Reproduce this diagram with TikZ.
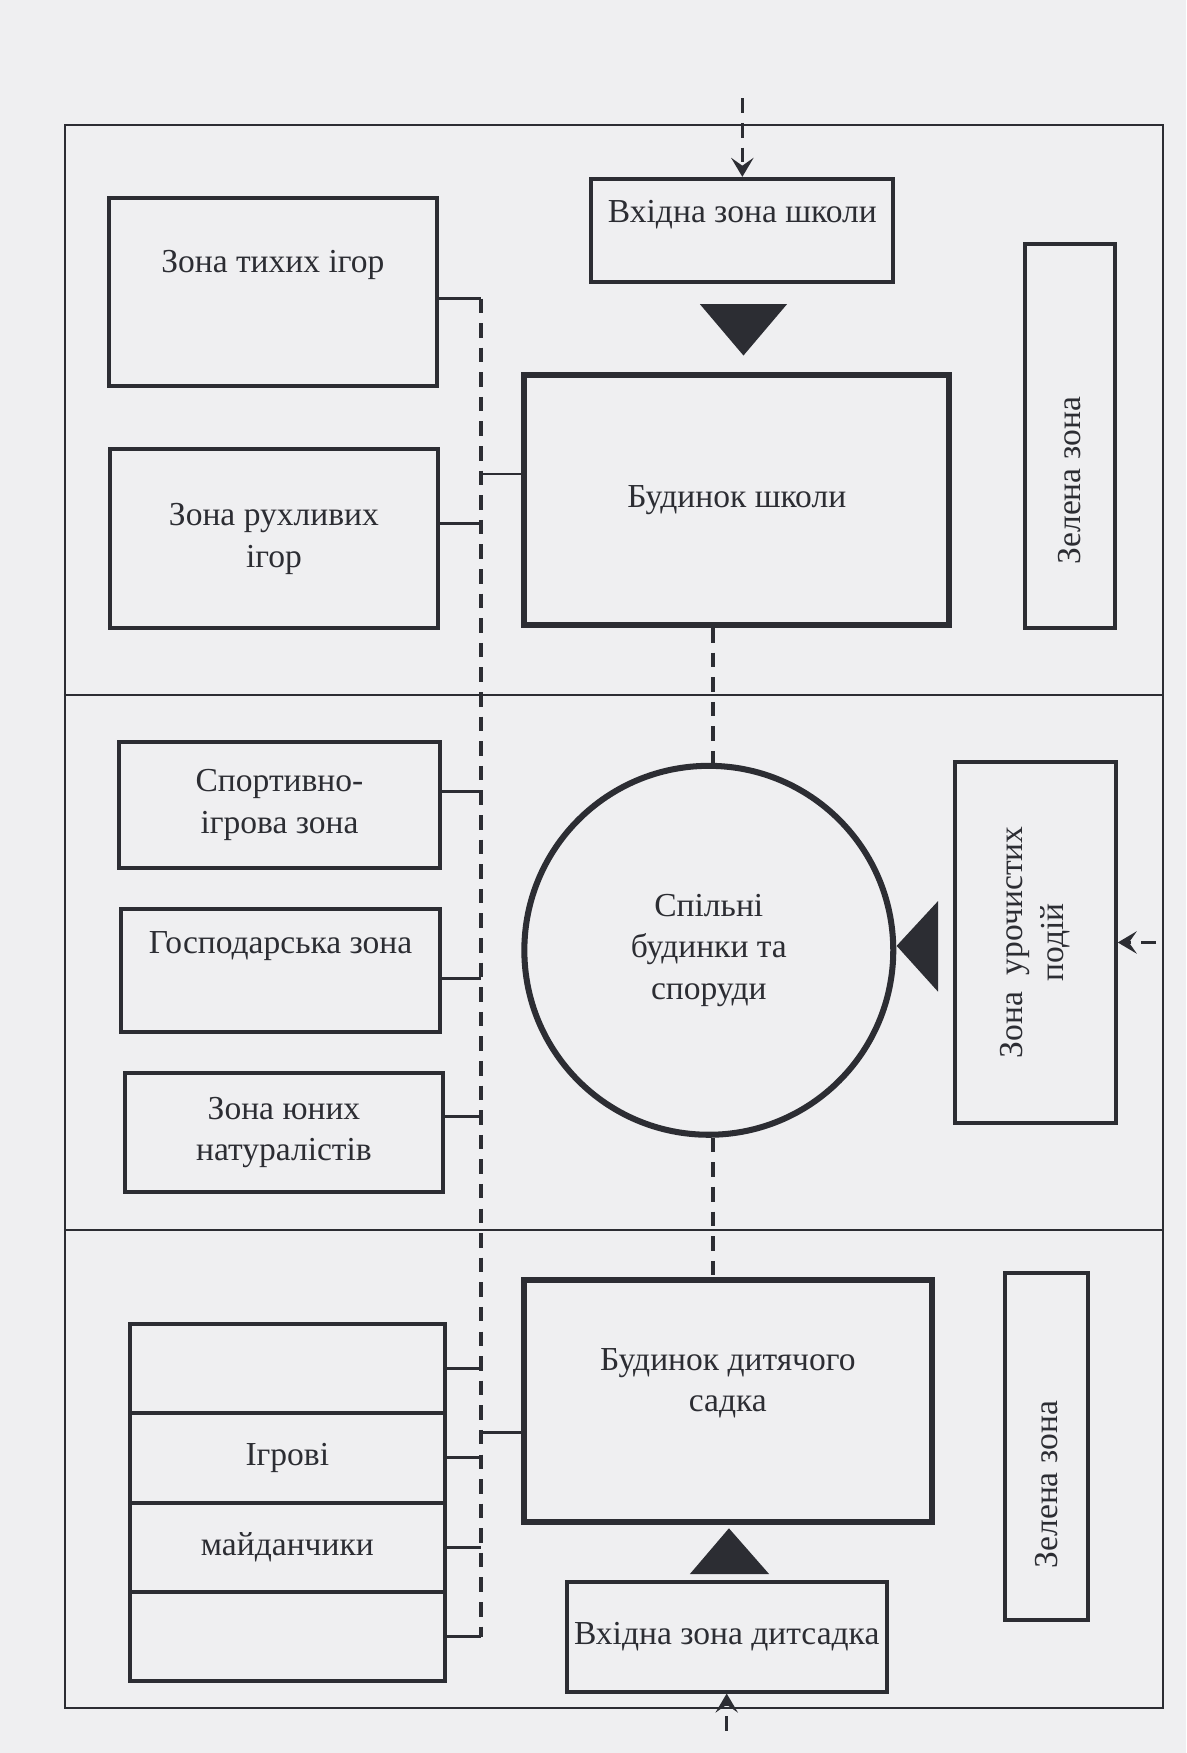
\documentclass[tikz,border=0pt]{standalone}
\usepackage{fontspec}
\setmainfont{Liberation Serif}
\usepackage{xcolor}
\usetikzlibrary{arrows.meta,positioning,calc}
\definecolor{ink}{HTML}{2C2D33}
\definecolor{paper}{HTML}{EFEFF1}

\begin{document}
\begin{tikzpicture}[
  x=1pt, y=-1pt, >={Stealth[length=17pt,width=20pt,inset=7pt]},
  zone/.style={draw=ink, line width=3.6pt, font=\fontsize{30}{37}\selectfont, text=ink, align=center, inner sep=0pt},
  main/.style={zone, line width=5.4pt},
  row/.style={zone, outer sep=0pt, minimum width=282pt, minimum height=80pt},
  txt/.style={font=\fontsize{30}{37}\selectfont, text=ink, align=center, inner sep=0pt},
  frameline/.style={draw=ink, line width=1.6pt},
  link/.style={draw=ink, line width=2.6pt},
  dashline/.style={draw=ink, line width=3.2pt, dash pattern=on 13pt off 9pt},
  arrow/.style={->, draw=ink, line width=3pt, dash pattern=on 13pt off 9pt},
  pointer/.style={fill=ink}
]

\fill[paper] (0,0) rectangle (1061,1568);
\useasboundingbox (0,0) rectangle (1061,1568);

\node[frameline, minimum width=982pt, minimum height=1416pt] (site) at (549,820) {};
\draw[frameline] (site.west |- 0,622) -- (site.east |- 0,622);
\draw[frameline] (site.west |- 0,1100) -- (site.east |- 0,1100);

\node[zone, minimum width=270pt, minimum height=92pt] (schin) at (664,206) {};
\node[txt] (schint) at (664,192) {Вхідна зона школи};
\node[main, minimum width=380pt, minimum height=224pt] (school) at (659,447) {Будинок школи};
\node[zone, minimum width=81pt, minimum height=343pt] (green1) at (957,390) {};
\node[txt, rotate=90] (green1t) at (957,430) {Зелена зона};
\node[zone, minimum width=293pt, minimum height=168pt] (tihi) at (244,261) {};
\node[txt] (tihit) at (244,237) {Зона тихих ігор};
\node[zone, minimum width=294pt, minimum height=160pt] (ruhl) at (245,482) {Зона рухливих\\ігор};

\node[zone, minimum width=287pt, minimum height=113pt] (sport) at (250,720) {Спортивно-\\ігрова зона};
\node[zone, minimum width=285pt, minimum height=110pt] (gosp) at (251,868) {};
\node[txt] (gospt) at (251,846) {Господарська зона};
\node[zone, minimum width=284pt, minimum height=107pt] (yunyh) at (254,1013) {Зона юних\\натуралістів};
\node[main, circle, minimum size=330pt] (circ) at (634,850) {Спільні\\будинки та\\споруди};
\node[zone, minimum width=144pt, minimum height=323pt] (uroch) at (926,843) {};
\node[txt, rotate=90] (urocht) at (uroch) {Зона\ \ урочистих\\подій};

\node[main, minimum width=365pt, minimum height=216pt] (kinder) at (651,1253) {};
\node[txt] (kindert) at (651,1237) {Будинок дитячого\\садка};
\node[zone, minimum width=286pt, minimum height=98pt] (kinin) at (650,1464) {Вхідна зона дитсадка};
\node[zone, minimum width=74pt, minimum height=310pt] (green2) at (936,1294) {};
\node[txt, rotate=90] (green2t) at (936,1328) {Зелена зона};
\node[row] (pl1) at (257,1224) {};
\node[row, below=0pt of pl1] (pl2) {Ігрові};
\node[row, below=0pt of pl2] (pl3) {майданчики};
\node[row, below=0pt of pl3] (pl4) {};

\fill[pointer] (626,272) -- (704,272) -- (665,318) -- cycle;
\fill[pointer] (839,806) -- (839,887) -- (802,846) -- cycle;
\fill[pointer] (617,1408) -- (688,1408) -- (652,1367) -- cycle;

\coordinate (topin) at (664,88);
\coordinate (rightin) at (1034,843);
\coordinate (botin) at (650,1548);
\draw[arrow] (topin) -- (schin.north);
\draw[arrow] (rightin) -- (uroch.east);
\draw[arrow] (botin) -- (kinin.south);

\coordinate (j1) at (430,267);
\coordinate (j2) at (430,424);
\coordinate (j3) at (430,468);
\coordinate (j4) at (430,708);
\coordinate (j5) at (430,875);
\coordinate (j6) at (430,999);
\coordinate (j7) at (430,1281);
\coordinate (j8) at (430,1464);
\draw[dashline] (j1) -- (j8);
\draw[link] (tihi.east |- j1) -- (j1);
\draw[link] (j2) -- (school.west |- j2);
\draw[link] (ruhl.east |- j3) -- (j3);
\draw[link] (sport.east |- j4) -- (j4);
\draw[link] (gosp.east |- j5) -- (j5);
\draw[link] (yunyh.east |- j6) -- (j6);
\draw[link] (j7) -- (kinder.west |- j7);
\draw[link] (pl1.east) -- (pl1.east -| j1);
\draw[link] (pl2.east) -- (pl2.east -| j1);
\draw[link] (pl3.east) -- (pl3.east -| j1);
\draw[link] (pl4.east) -- (pl4.east -| j1);

\coordinate (mid) at (638,0);
\draw[dashline] (mid |- school.south) -- (mid |- circ.north);
\draw[dashline] (mid |- circ.south) -- (mid |- kinder.north);

\end{tikzpicture}
\end{document}
